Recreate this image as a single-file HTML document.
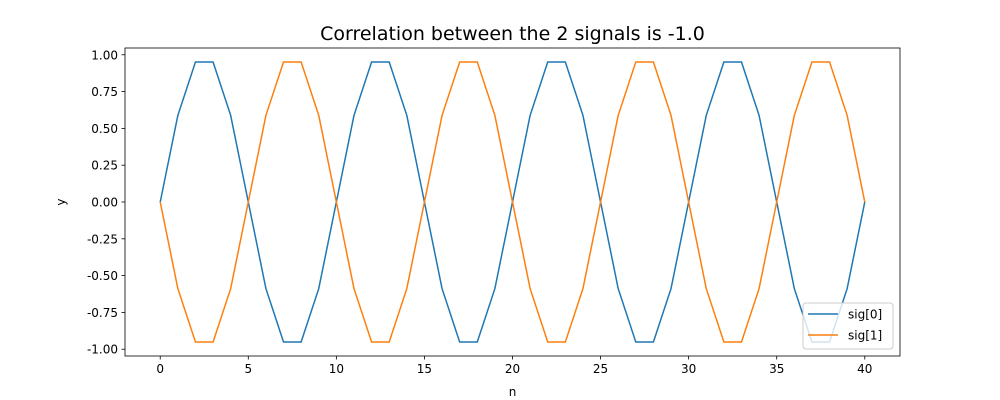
<!DOCTYPE html>
<html><head><meta charset="utf-8"><style>body{margin:0;background:#fff}svg{display:block;font-family:"DejaVu Sans","Liberation Sans",sans-serif}</style></head>
<body>
<svg id="chart" width="1000" height="400" xmlns="http://www.w3.org/2000/svg"></svg>
<script>
const nValues = [0,1,2,3,4,5,6,7,8,9,10,11,12,13,14,15,16,17,18,19,20,21,22,23,24,25,26,27,28,29,30,31,32,33,34,35,36,37,38,39,40];
const sig0 = [0,0.588,0.951,0.951,0.588,0,-0.588,-0.951,-0.951,-0.588,0,0.588,0.951,0.951,0.588,0,-0.588,-0.951,-0.951,-0.588,0,0.588,0.951,0.951,0.588,0,-0.588,-0.951,-0.951,-0.588,0,0.588,0.951,0.951,0.588,0,-0.588,-0.951,-0.951,-0.588,0];
const sig1 = [0,-0.588,-0.951,-0.951,-0.588,0,0.588,0.951,0.951,0.588,0,-0.588,-0.951,-0.951,-0.588,0,0.588,0.951,0.951,0.588,0,-0.588,-0.951,-0.951,-0.588,0,0.588,0.951,0.951,0.588,0,-0.588,-0.951,-0.951,-0.588,0,0.588,0.951,0.951,0.588,0];
const xTicks = [0,5,10,15,20,25,30,35,40];
const yTicks = [-1.00,-0.75,-0.50,-0.25,0.00,0.25,0.50,0.75,1.00];
const seriesNames = ["sig[0]","sig[1]"];

const svg = document.getElementById('chart');
const NS = 'http://www.w3.org/2000/svg';
const L=125,R=900,T=48,B=356;
const xmin=-2,xmax=42,ymin=-1.046,ymax=1.046;
const X=v=>L+(v-xmin)/(xmax-xmin)*(R-L);
const Y=v=>B-(v-ymin)/(ymax-ymin)*(B-T);
function mk(tag,attrs,parent){const e=document.createElementNS(NS,tag);for(const k in attrs)e.setAttribute(k,attrs[k]);(parent||svg).appendChild(e);return e;}

const title=mk('text',{x:(L+R)/2,y:40,'text-anchor':'middle','font-size':19,fill:'#000'});
title.textContent='Correlation between the 2 signals is -1.0';



const colors=['#1f77b4','#ff7f0e'];
[sig0,sig1].forEach((s,i)=>{
  const p=mk('polyline',{points:s.map((v,j)=>X(nValues[j])+','+Y(v)).join(' '),fill:'none',stroke:colors[i],'stroke-width':1.5});
  
  
});

const frame=mk('rect',{x:L,y:T,width:R-L,height:B-T,fill:'none',stroke:'#000','stroke-width':0.8});



xTicks.forEach(t=>{
  const g=mk('g',{});
  
  
  mk('line',{x1:X(t),x2:X(t),y1:B,y2:B+3.5,stroke:'#000','stroke-width':0.8},g);
  const tx=mk('text',{x:X(t),y:B+17,'text-anchor':'middle','font-size':12},g);tx.textContent=t;
});
yTicks.forEach(t=>{
  const g=mk('g',{});
  
  
  mk('line',{x1:L-3.5,x2:L,y1:Y(t),y2:Y(t),stroke:'#000','stroke-width':0.8},g);
  const tx=mk('text',{x:L-7,y:Y(t)+4.5,'text-anchor':'end','font-size':12},g);tx.textContent=t.toFixed(2);
});
const xl=mk('text',{x:(L+R)/2,y:396,'text-anchor':'middle','font-size':12});xl.textContent='n';


const yl=mk('text',{x:65,y:(T+B)/2,'text-anchor':'middle','font-size':12,transform:'rotate(-90 65 '+((T+B)/2)+')'});yl.textContent='y';



const lg=mk('g',{});


mk('rect',{x:803,y:303,width:90,height:46,rx:3,fill:'#fff','fill-opacity':0.8,stroke:'#ccc','stroke-width':1},lg);
seriesNames.forEach((n,i)=>{
  const e=mk('g',{},lg);
  
  
  const y=314+i*21;
  mk('line',{x1:808,x2:838,y1:y,y2:y,stroke:colors[i],'stroke-width':1.5},e);
  const t=mk('text',{x:848,y:y+4.5,'font-size':12},e);t.textContent=n;
});
</script>
</body></html>
